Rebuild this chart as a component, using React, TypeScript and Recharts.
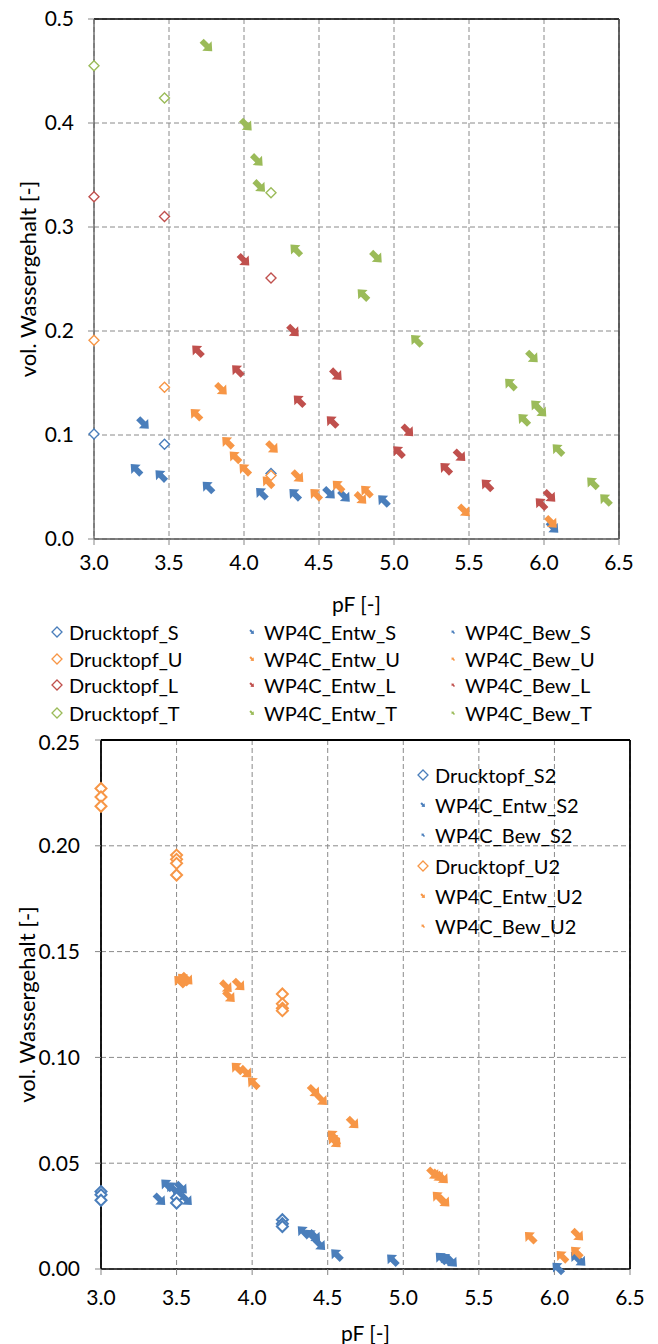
import {
  ScatterChart,
  Scatter,
  XAxis,
  YAxis,
  CartesianGrid,
  ReferenceLine,
  Legend,
} from 'recharts';

const FONT = 'Lato, "Open Sans", sans-serif';
const BLUE = '#4A7EBB';
const ORANGE = '#F79646';
const RED = '#C0504D';
const GREEN = '#9BBB59';

const xTicks = [3.0, 3.5, 4.0, 4.5, 5.0, 5.5, 6.0, 6.5];
const yTicksTop = [0, 0.1, 0.2, 0.3, 0.4, 0.5];
const yTicksBottom = [0, 0.05, 0.1, 0.15, 0.2, 0.25];

// oberes Diagramm: Böden S, U, L, T
const druckS = [{ x: 3.0, y: 0.101 }, { x: 3.47, y: 0.091 }, { x: 4.18, y: 0.063 }];
const entwS = [{ x: 3.33, y: 0.111 }, { x: 4.57, y: 0.044 }, { x: 4.67, y: 0.041 }, { x: 6.06, y: 0.011 }];
const bewS = [
  { x: 3.28, y: 0.067 }, { x: 3.445, y: 0.061 }, { x: 3.76, y: 0.05 },
  { x: 4.116, y: 0.044 }, { x: 4.338, y: 0.043 }, { x: 4.93, y: 0.037 },
];
const druckU = [{ x: 3.0, y: 0.191 }, { x: 3.47, y: 0.146 }, { x: 4.18, y: 0.061 }];
const entwU = [
  { x: 3.85, y: 0.144 }, { x: 4.19, y: 0.088 }, { x: 4.36, y: 0.06 },
  { x: 4.78, y: 0.039 }, { x: 5.47, y: 0.027 }, { x: 6.05, y: 0.016 },
];
const bewU = [
  { x: 3.68, y: 0.12 }, { x: 3.89, y: 0.093 }, { x: 3.94, y: 0.079 }, { x: 4.005, y: 0.067 },
  { x: 4.16, y: 0.055 }, { x: 4.478, y: 0.043 }, { x: 4.627, y: 0.051 }, { x: 4.816, y: 0.046 },
];
const druckL = [{ x: 3.0, y: 0.329 }, { x: 3.47, y: 0.31 }, { x: 4.18, y: 0.251 }];
const entwL = [
  { x: 4.0, y: 0.268 }, { x: 4.33, y: 0.2 }, { x: 4.616, y: 0.158 },
  { x: 5.093, y: 0.104 }, { x: 5.44, y: 0.08 }, { x: 6.04, y: 0.041 },
];
const bewL = [
  { x: 3.69, y: 0.181 }, { x: 3.956, y: 0.162 }, { x: 4.367, y: 0.133 }, { x: 4.587, y: 0.113 },
  { x: 5.03, y: 0.084 }, { x: 5.345, y: 0.068 }, { x: 5.62, y: 0.052 }, { x: 5.98, y: 0.034 },
];
const druckT = [{ x: 3.0, y: 0.455 }, { x: 3.47, y: 0.424 }, { x: 4.18, y: 0.333 }];
const entwT = [
  { x: 3.753, y: 0.474 }, { x: 4.016, y: 0.398 }, { x: 4.089, y: 0.364 }, { x: 4.105, y: 0.339 },
  { x: 4.883, y: 0.271 }, { x: 5.923, y: 0.175 }, { x: 5.98, y: 0.123 },
];
const bewT = [
  { x: 4.345, y: 0.278 }, { x: 4.793, y: 0.235 }, { x: 5.149, y: 0.191 }, { x: 5.776, y: 0.149 },
  { x: 5.865, y: 0.115 }, { x: 5.95, y: 0.128 }, { x: 6.093, y: 0.086 }, { x: 6.323, y: 0.054 },
  { x: 6.41, y: 0.038 },
];

// unteres Diagramm: S2, U2
const druckS2 = [
  { x: 3.0, y: 0.0366 }, { x: 3.0, y: 0.0351 }, { x: 3.0, y: 0.0325 }, { x: 3.5, y: 0.0337 },
  { x: 3.5, y: 0.0312 }, { x: 4.2, y: 0.0233 }, { x: 4.2, y: 0.0214 }, { x: 4.2, y: 0.0201 },
];
const entwS2 = [
  { x: 3.39, y: 0.0327 }, { x: 3.533, y: 0.0382 }, { x: 3.566, y: 0.0327 }, { x: 4.415, y: 0.0154 },
  { x: 4.448, y: 0.0115 }, { x: 5.32, y: 0.0036 }, { x: 6.17, y: 0.004 },
];
const bewS2 = [
  { x: 3.434, y: 0.0398 }, { x: 3.47, y: 0.0385 }, { x: 3.51, y: 0.036 }, { x: 4.337, y: 0.0177 },
  { x: 4.39, y: 0.016 }, { x: 4.558, y: 0.0068 }, { x: 4.928, y: 0.0044 }, { x: 5.25, y: 0.0052 },
  { x: 5.28, y: 0.0048 }, { x: 6.022, y: 0.0005 }, { x: 6.144, y: 0.0055 },
];
const druckU2 = [
  { x: 3.0, y: 0.2271 }, { x: 3.0, y: 0.2231 }, { x: 3.0, y: 0.2187 }, { x: 3.5, y: 0.1956 },
  { x: 3.5, y: 0.1936 }, { x: 3.5, y: 0.1917 }, { x: 3.5, y: 0.1862 }, { x: 4.2, y: 0.13 },
  { x: 4.2, y: 0.1253 }, { x: 4.2, y: 0.1232 }, { x: 4.2, y: 0.1221 },
];
const entwU2 = [
  { x: 3.57, y: 0.137 }, { x: 3.83, y: 0.1334 }, { x: 3.85, y: 0.1287 }, { x: 3.914, y: 0.1342 },
  { x: 3.96, y: 0.093 }, { x: 4.41, y: 0.084 }, { x: 4.46, y: 0.08 }, { x: 4.55, y: 0.06 },
  { x: 4.668, y: 0.069 }, { x: 5.2, y: 0.045 }, { x: 5.23, y: 0.044 }, { x: 5.26, y: 0.043 },
  { x: 5.27, y: 0.032 }, { x: 6.155, y: 0.016 },
];
const bewU2 = [
  { x: 3.52, y: 0.136 }, { x: 3.545, y: 0.137 }, { x: 3.9, y: 0.095 }, { x: 4.007, y: 0.088 },
  { x: 4.535, y: 0.063 }, { x: 4.54, y: 0.061 }, { x: 5.23, y: 0.034 }, { x: 5.84, y: 0.015 },
  { x: 6.05, y: 0.006 }, { x: 6.145, y: 0.008 },
];

type P = { cx?: number; cy?: number };
// Blockpfeil nach rechts, wird per rotate gedreht
const ARROW = '-7.5,-2.9 0,-2.9 0,-6.6 7.5,0 0,6.6 0,2.9 -7.5,2.9';

function arrow(color: string, angle: number, scale = 1) {
  return (p: P) =>
    p.cx == null || p.cy == null ? (
      <g />
    ) : (
      <polygon
        points={ARROW}
        fill={color}
        transform={`translate(${p.cx},${p.cy}) rotate(${angle}) scale(${scale})`}
      />
    );
}

function diamond(color: string, r: number, sw: number) {
  return (p: P) =>
    p.cx == null || p.cy == null ? (
      <g />
    ) : (
      <polygon
        points={`${p.cx},${p.cy - r} ${p.cx + r},${p.cy} ${p.cx},${p.cy + r} ${p.cx - r},${p.cy}`}
        fill="#fff"
        stroke={color}
        strokeWidth={sw}
      />
    );
}

type Kind = 'druck' | 'entw' | 'bew';

function LegendMark({ color, kind }: { color: string; kind: Kind }) {
  return (
    <svg width={14} height={14} style={{ flex: 'none' }}>
      {kind === 'druck' ? (
        <polygon points="7,2 12,7 7,12 2,7" fill="#fff" stroke={color} strokeWidth={1.3} />
      ) : (
        <polygon
          points={ARROW}
          fill={color}
          transform={`translate(7,7) rotate(${kind === 'entw' ? 45 : 225}) scale(${kind === 'entw' ? 0.36 : 0.28})`}
        />
      )}
    </svg>
  );
}

function LegendItem({ x, y, name, color, kind }: { x: number; y: number; name: string; color: string; kind: Kind }) {
  return (
    <div
      style={{
        position: 'absolute',
        left: x - 7,
        top: y - 13,
        height: 26,
        display: 'flex',
        alignItems: 'center',
        gap: 5,
        whiteSpace: 'nowrap',
        fontFamily: FONT,
        fontSize: 20,
        color: '#000',
      }}
    >
      <LegendMark color={color} kind={kind} />
      <span>{name}</span>
    </div>
  );
}

const topSoils = [
  { s: 'S', color: BLUE },
  { s: 'U', color: ORANGE },
  { s: 'L', color: RED },
  { s: 'T', color: GREEN },
];
const topRowsY = [632, 659, 685, 713];
const topColsX = [57, 252, 453];

function TopLegend() {
  return (
    <div style={{ position: 'relative', width: 658, height: 110 }}>
      {topSoils.map((soil, i) => (
        <div key={soil.s}>
          <LegendItem x={topColsX[0]} y={topRowsY[i] - 620} name={`Drucktopf_${soil.s}`} color={soil.color} kind="druck" />
          <LegendItem x={topColsX[1]} y={topRowsY[i] - 620} name={`WP4C_Entw_${soil.s}`} color={soil.color} kind="entw" />
          <LegendItem x={topColsX[2]} y={topRowsY[i] - 620} name={`WP4C_Bew_${soil.s}`} color={soil.color} kind="bew" />
        </div>
      ))}
    </div>
  );
}

const bottomItems: { name: string; color: string; kind: Kind }[] = [
  { name: 'Drucktopf_S2', color: BLUE, kind: 'druck' },
  { name: 'WP4C_Entw_S2', color: BLUE, kind: 'entw' },
  { name: 'WP4C_Bew_S2', color: BLUE, kind: 'bew' },
  { name: 'Drucktopf_U2', color: ORANGE, kind: 'druck' },
  { name: 'WP4C_Entw_U2', color: ORANGE, kind: 'entw' },
  { name: 'WP4C_Bew_U2', color: ORANGE, kind: 'bew' },
];

function BottomLegend() {
  return (
    <div style={{ position: 'relative', width: 250, height: 190 }}>
      {bottomItems.map((it, i) => (
        <LegendItem key={it.name} x={8} y={15 + i * 30.2} name={it.name} color={it.color} kind={it.kind} />
      ))}
    </div>
  );
}

const tickStyle = { fontSize: 21, fill: '#000', fontFamily: FONT };

function xTitle(dy: number) {
  return (p: any) => {
    const vb = p.viewBox;
    return (
      <text x={vb.x + vb.width / 2} y={vb.y + dy} textAnchor="middle" dominantBaseline="central" fontSize={21} fontFamily={FONT} fill="#000">
        pF [-]
      </text>
    );
  };
}

function yTitle(x: number) {
  return (p: any) => {
    const vb = p.viewBox;
    const cy = vb.y + vb.height / 2;
    return (
      <text x={x} y={cy} transform={`rotate(-90 ${x} ${cy})`} textAnchor="middle" dominantBaseline="central" fontSize={22} fontFamily={FONT} fill="#000">
        vol. Wassergehalt [-]
      </text>
    );
  };
}

function TopChart() {
  return (
    <ScatterChart width={658} height={730} margin={{ top: 19, right: 39, bottom: 151, left: 34 }}>
      <CartesianGrid stroke="#8a8a8a" strokeDasharray="5 3" />
      <XAxis
        type="number"
        dataKey="x"
        domain={[3, 6.5]}
        ticks={xTicks}
        tickFormatter={(v: number) => v.toFixed(1)}
        height={40}
        tick={tickStyle}
        tickSize={6}
        tickMargin={10}
        axisLine={{ stroke: '#595959', strokeWidth: 1.3 }}
        tickLine={{ stroke: '#868686' }}
        label={{ content: xTitle(64) }}
      />
      <YAxis
        type="number"
        dataKey="y"
        domain={[0, 0.5]}
        ticks={yTicksTop}
        tickFormatter={(v: number) => v.toFixed(1)}
        width={60}
        tick={tickStyle}
        tickSize={6}
        tickMargin={14}
        axisLine={{ stroke: '#595959', strokeWidth: 1.3 }}
        tickLine={{ stroke: '#868686' }}
        label={{ content: yTitle(27) }}
      />
      <ReferenceLine y={0.5} stroke="#000" strokeWidth={1.3} />
      <ReferenceLine x={6.5} stroke="#404040" strokeWidth={1.6} />
      <Scatter name="WP4C_Entw_S" data={entwS} shape={arrow(BLUE, 45)} isAnimationActive={false} />
      <Scatter name="WP4C_Bew_S" data={bewS} shape={arrow(BLUE, 225)} isAnimationActive={false} />
      <Scatter name="WP4C_Entw_U" data={entwU} shape={arrow(ORANGE, 45)} isAnimationActive={false} />
      <Scatter name="WP4C_Bew_U" data={bewU} shape={arrow(ORANGE, 225)} isAnimationActive={false} />
      <Scatter name="WP4C_Entw_L" data={entwL} shape={arrow(RED, 45)} isAnimationActive={false} />
      <Scatter name="WP4C_Bew_L" data={bewL} shape={arrow(RED, 225)} isAnimationActive={false} />
      <Scatter name="WP4C_Entw_T" data={entwT} shape={arrow(GREEN, 45)} isAnimationActive={false} />
      <Scatter name="WP4C_Bew_T" data={bewT} shape={arrow(GREEN, 225)} isAnimationActive={false} />
      <Scatter name="Drucktopf_S" data={druckS} shape={diamond(BLUE, 5, 1.4)} isAnimationActive={false} />
      <Scatter name="Drucktopf_U" data={druckU} shape={diamond(ORANGE, 5, 1.4)} isAnimationActive={false} />
      <Scatter name="Drucktopf_L" data={druckL} shape={diamond(RED, 5, 1.4)} isAnimationActive={false} />
      <Scatter name="Drucktopf_T" data={druckT} shape={diamond(GREEN, 5, 1.4)} isAnimationActive={false} />
      <Legend
        layout="horizontal"
        verticalAlign="middle"
        align="center"
        wrapperStyle={{ left: 0, top: 620, width: 658 }}
        content={() => <TopLegend />}
      />
    </ScatterChart>
  );
}

function BottomChart() {
  return (
    <ScatterChart width={658} height={614} margin={{ top: 10, right: 28, bottom: 35, left: 41 }}>
      <CartesianGrid stroke="#8a8a8a" strokeDasharray="5 3" />
      <XAxis
        type="number"
        dataKey="x"
        domain={[3, 6.5]}
        ticks={xTicks}
        tickFormatter={(v: number) => v.toFixed(1)}
        height={40}
        tick={tickStyle}
        tickSize={6}
        tickMargin={15}
        axisLine={{ stroke: '#000', strokeWidth: 1.5 }}
        tickLine={{ stroke: '#868686' }}
        label={{ content: xTitle(63) }}
      />
      <YAxis
        type="number"
        dataKey="y"
        domain={[0, 0.25]}
        ticks={yTicksBottom}
        tickFormatter={(v: number) => v.toFixed(2)}
        width={60}
        tick={tickStyle}
        tickSize={6}
        tickMargin={15}
        axisLine={{ stroke: '#000', strokeWidth: 1.8 }}
        tickLine={{ stroke: '#868686' }}
        label={{ content: yTitle(26) }}
      />
      <ReferenceLine y={0.25} stroke="#000" strokeWidth={1.8} />
      <ReferenceLine x={6.5} stroke="#000" strokeWidth={1.8} />
      <Scatter name="WP4C_Entw_S2" data={entwS2} shape={arrow(BLUE, 45)} isAnimationActive={false} />
      <Scatter name="WP4C_Bew_S2" data={bewS2} shape={arrow(BLUE, 225)} isAnimationActive={false} />
      <Scatter name="WP4C_Entw_U2" data={entwU2} shape={arrow(ORANGE, 45)} isAnimationActive={false} />
      <Scatter name="WP4C_Bew_U2" data={bewU2} shape={arrow(ORANGE, 225)} isAnimationActive={false} />
      <Scatter name="Drucktopf_S2" data={druckS2} shape={diamond(BLUE, 5.5, 2)} isAnimationActive={false} />
      <Scatter name="Drucktopf_U2" data={druckU2} shape={diamond(ORANGE, 5.5, 2)} isAnimationActive={false} />
      <Legend
        layout="horizontal"
        verticalAlign="middle"
        align="center"
        wrapperStyle={{ left: 415, top: 30, width: 250 }}
        content={() => <BottomLegend />}
      />
    </ScatterChart>
  );
}

export default function App() {
  return (
    <div style={{ position: 'absolute', left: 0, top: 0, width: 658, height: 1344, background: '#fff' }}>
      <TopChart />
      <BottomChart />
    </div>
  );
}
